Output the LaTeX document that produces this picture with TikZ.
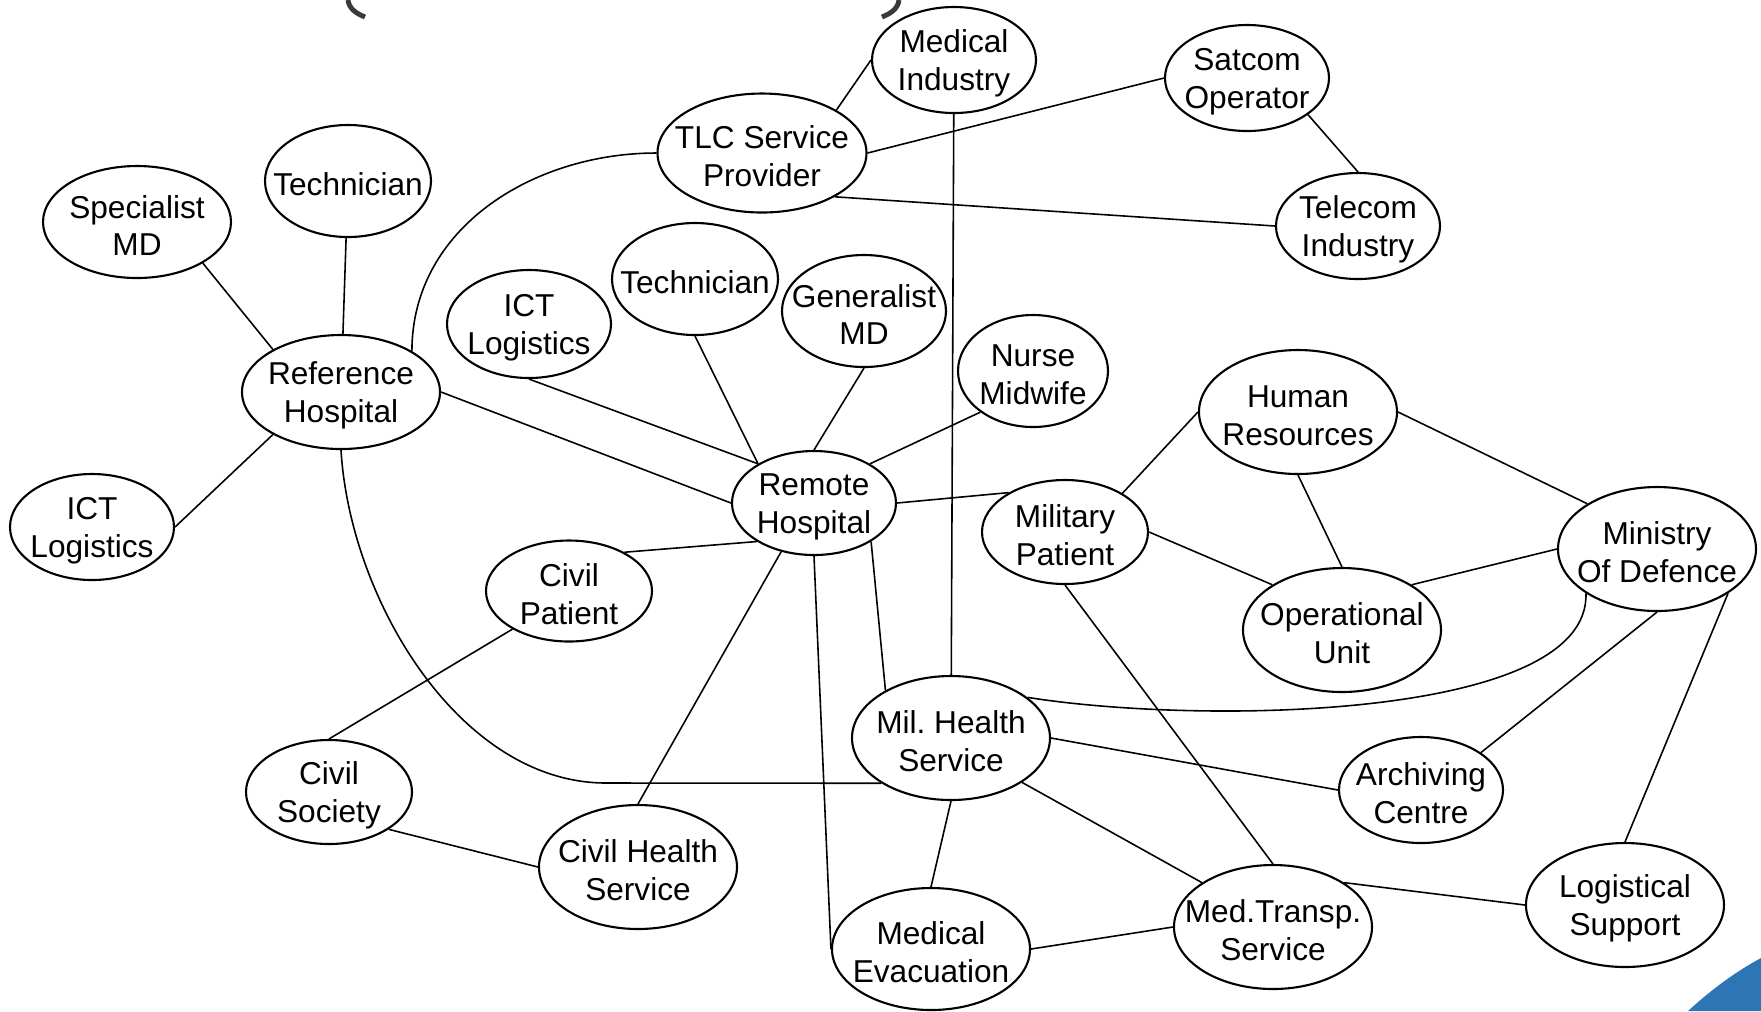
\documentclass[tikz,border=0pt]{standalone}
\usepackage{fontspec}
\setmainfont{Liberation Sans}
\usetikzlibrary{shapes.geometric}
\definecolor{slideblue}{RGB}{46,117,182}
\definecolor{bracketgray}{RGB}{58,58,58}
\tikzset{
  actor/.style 2 args={draw, ellipse, line width=0.6pt, inner sep=0pt, minimum width=#1, minimum height=#2},
  every label/.style={align=center, yshift=-1pt}
}

\begin{document}
\begin{tikzpicture}[x=0.1mm, y=-0.1mm, line width=0.45pt, font={\fontsize{9.0}{10.8}\selectfont}]
    \useasboundingbox (0,0) rectangle (1761,1011);

    \draw[bracketgray, line width=1.4pt] (348,0) .. controls (349,8) and (355,13) .. (365,17);
    \draw[bracketgray, line width=1.4pt] (899,0) .. controls (898,8) and (892,13) .. (882,17);
    \fill[slideblue] (1688,1011) .. controls (1713,988) and (1737,971) .. (1761,958) -- (1761,1011) -- cycle;

    \node[actor={16.4mm}{10.6mm}, label={center:Medical\\Industry}]    at (954,60)   (medind)    {};
    \node[actor={16.4mm}{10.6mm}, label={center:Satcom\\Operator}]     at (1247,78)  (satcom)    {};
    \node[actor={20.9mm}{11.9mm}, label={center:TLC Service\\Provider}] at (762,153) (tlc)       {};
    \node[actor={16.4mm}{10.6mm}, label={center:Telecom\\Industry}]    at (1358,226) (telecom)   {};
    \node[actor={16.6mm}{11.2mm}, label={center:Technician}]           at (348,181)  (techa)     {};
    \node[actor={18.8mm}{11.2mm}, label={center:Specialist\\MD}]       at (137,222)  (specmd)    {};
    \node[actor={16.6mm}{11.2mm}, label={center:Technician}]           at (695,279)  (techb)     {};
    \node[actor={16.4mm}{10.8mm}, label={center:ICT\\Logistics}]       at (529,324)  (ictb)      {};
    \node[actor={16.4mm}{11.2mm}, label={center:Generalist\\MD}]       at (864,311)  (genmd)     {};
    \node[actor={15.0mm}{11.2mm}, label={center:Nurse\\Midwife}]       at (1033,371) (nurse)     {};
    \node[actor={19.8mm}{11.4mm}, label={center:Reference\\Hospital}]  at (341,392)  (refhosp)   {};
    \node[actor={19.8mm}{12.4mm}, label={center:Human\\Resources}]     at (1298,412) (humres)    {};
    \node[actor={16.4mm}{10.6mm}, label={center:ICT\\Logistics}]       at (92,527)   (icta)      {};
    \node[actor={16.4mm}{10.4mm}, label={center:Remote\\Hospital}]     at (814,503)  (remote)    {};
    \node[actor={16.6mm}{10.4mm}, label={center:Military\\Patient}]    at (1065,532) (milpat)    {};
    \node[actor={19.8mm}{12.4mm}, label={center:Ministry\\Of Defence}] at (1657,549) (mod)       {};
    \node[actor={16.6mm}{10.1mm}, label={center:Civil\\Patient}]       at (569,591)  (civpat)    {};
    \node[actor={19.8mm}{12.4mm}, label={center:Operational\\Unit}]    at (1342,630) (opunit)    {};
    \node[actor={19.8mm}{12.4mm}, label={center:Mil.\ Health\\Service}] at (951,738) (milhealth) {};
    \node[actor={16.6mm}{10.4mm}, label={center:Civil\\Society}]       at (329,792)  (civsoc)    {};
    \node[actor={16.4mm}{10.6mm}, label={center:Archiving\\Centre}]    at (1421,790) (archiv)    {};
    \node[actor={19.8mm}{12.4mm}, label={center:Civil Health\\Service}] at (638,867) (civhealth) {};
    \node[actor={19.8mm}{12.2mm}, label={center:Medical\\Evacuation}]  at (931,949)  (medevac)   {};
    \node[actor={19.8mm}{12.4mm}, label={center:Med.Transp.\\Service}] at (1273,927) (medtransp) {};
    \node[actor={19.8mm}{12.4mm}, label={center:Logistical\\Support}]  at (1625,905) (logist)    {};

    \draw (tlc.30) -- (medind.west);
    \draw (medind) -- (milhealth);
    \draw (satcom.west) -- (tlc.east);
    \draw (satcom.-31) -- (telecom.north);
    \draw (tlc.-31) -- (telecom.west);
    \draw (tlc.west) to[out=180, in=90] (refhosp.30);
    \draw (techa) -- (refhosp);
    \draw (specmd.-32) -- (refhosp.148);
    \draw (icta.east) -- (refhosp.212);
    \draw (refhosp.east) -- (remote.west);
    \draw (ictb.south) -- (remote.145);
    \draw (techb.south) -- (remote.145);
    \draw (genmd.south) -- (remote.north);
    \draw (nurse.218) -- (remote.35);
    \draw (remote.east) -- (milpat.145);
    \draw (remote.214) -- (civpat.35);
    \draw (remote.236) -- (civhealth.north);
    \draw (remote.south) -- (medevac.west);
    \draw (remote.-34) -- (milhealth.144);
    \draw (refhosp.south) .. controls (350,600) and (460,783) .. (606,783) -- (milhealth.213);
    \draw (civpat.214) -- (civsoc.north);
    \draw (civsoc.-32) -- (civhealth.west);
    \draw (humres.west) -- (milpat.34);
    \draw (humres.south) -- (opunit.north);
    \draw (humres.east) -- (mod.147);
    \draw (milpat.east) -- (opunit.147);
    \draw (milpat.south) -- (medtransp.north);
    \draw (opunit.33) -- (mod.west);
    \draw (milhealth.28) .. controls (1200,725) and (1590,720) .. (mod.212);
    \draw (mod.south) -- (archiv.32);
    \draw (mod.-32) -- (logist.north);
    \draw (milhealth.east) -- (archiv.west);
    \draw (milhealth.-32) -- (medtransp.148);
    \draw (milhealth.south) -- (medevac.north);
    \draw (medevac.east) -- (medtransp.west);
    \draw (medtransp.32) -- (logist.west);
\end{tikzpicture}
\end{document}
